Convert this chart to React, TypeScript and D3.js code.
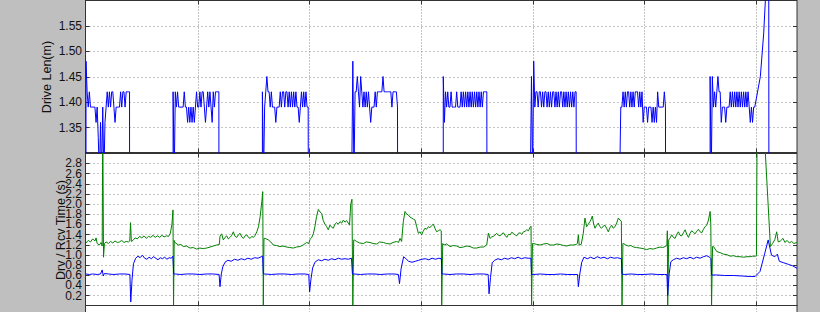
import React, { useEffect, useRef } from 'react';
import * as d3 from 'd3';

// ---------- DATA ----------
// time axis (x) ticks
const xTicks = [0, 100, 200, 300, 400, 500, 600];
const topYTicks = [1.35, 1.4, 1.45, 1.5, 1.55];
const topYLabels = ['1.35', '1.40', '1.45', '1.50', '1.55'];
const botYTicks = [0.2, 0.4, 0.6, 0.8, 1.0, 1.2, 1.4, 1.6, 1.8, 2.0, 2.2, 2.4, 2.6, 2.8];
const botYLabels = ['0.2', '0.4', '0.6', '0.8', '1.0', '1.2', '1.4', '1.6', '1.8', '2.0', '2.2', '2.4', '2.6', '2.8'];

// Drive length: off-scale value between drive bursts
const DRIVE_OFF = 0;
const driveSegStarts = [0, 78, 158, 238, 320, 398, 478, 559];
const driveSegEnds = [39.3, 119.5, 200, 280, 359.8, 440, 520, 612];
const driveSeg1 = [1.48, 1.42, 1.39, 1.42, 1.39, 1.39, 1.39, 1.39, 1.39, 1.36, 1.39, 1.33, 1.25, 1.36, 1.25, 1.39, 1.25, 1.36, 1.39, 1.42, 1.39, 1.42, 1.39, 1.42, 1.42, 1.39, 1.36, 1.39, 1.39, 1.39, 1.39, 1.42, 1.39, 1.42, 1.42, 1.39, 1.42, 1.42, 1.42, 1.42];
const driveSeg2 = [1.42, 1.25, 1.42, 1.39, 1.42, 1.39, 1.39, 1.39, 1.39, 1.39, 1.42, 1.39, 1.39, 1.36, 1.39, 1.36, 1.39, 1.36, 1.39, 1.36, 1.39, 1.42, 1.39, 1.39, 1.42, 1.39, 1.42, 1.42, 1.39, 1.36, 1.39, 1.42, 1.39, 1.42, 1.39, 1.36, 1.42, 1.39, 1.42, 1.42, 1.42, 1.42];
const driveSeg3 = [1.42, 1.25, 1.39, 1.42, 1.45, 1.42, 1.42, 1.39, 1.42, 1.39, 1.39, 1.39, 1.36, 1.39, 1.39, 1.39, 1.42, 1.39, 1.42, 1.42, 1.39, 1.42, 1.42, 1.39, 1.42, 1.39, 1.42, 1.39, 1.42, 1.39, 1.42, 1.39, 1.39, 1.36, 1.39, 1.42, 1.39, 1.42, 1.39, 1.42, 1.39, 1.39];
const driveSeg4 = [1.25, 1.48, 1.25, 1.42, 1.42, 1.45, 1.42, 1.39, 1.45, 1.42, 1.39, 1.42, 1.39, 1.42, 1.39, 1.42, 1.39, 1.36, 1.39, 1.39, 1.39, 1.42, 1.39, 1.42, 1.42, 1.42, 1.42, 1.42, 1.45, 1.42, 1.42, 1.42, 1.42, 1.42, 1.42, 1.42, 1.39, 1.42, 1.42, 1.42, 1.42, 1.39];
const driveSeg5 = [1.45, 1.36, 1.42, 1.39, 1.42, 1.39, 1.39, 1.42, 1.39, 1.39, 1.39, 1.39, 1.42, 1.39, 1.39, 1.39, 1.42, 1.39, 1.42, 1.39, 1.42, 1.39, 1.42, 1.39, 1.42, 1.39, 1.42, 1.39, 1.42, 1.39, 1.42, 1.39, 1.42, 1.39, 1.42, 1.39, 1.42, 1.42, 1.42, 1.42];
const driveSeg6 = [1.25, 1.45, 1.25, 1.48, 1.39, 1.42, 1.42, 1.39, 1.42, 1.42, 1.39, 1.42, 1.39, 1.42, 1.42, 1.39, 1.42, 1.39, 1.42, 1.39, 1.42, 1.42, 1.39, 1.42, 1.39, 1.42, 1.39, 1.42, 1.42, 1.39, 1.42, 1.39, 1.42, 1.39, 1.42, 1.39, 1.42, 1.39, 1.42, 1.39, 1.42, 1.42];
const driveSeg7 = [1.25, 1.39, 1.39, 1.42, 1.39, 1.42, 1.39, 1.42, 1.42, 1.39, 1.42, 1.39, 1.42, 1.39, 1.42, 1.42, 1.42, 1.39, 1.42, 1.39, 1.42, 1.36, 1.39, 1.39, 1.39, 1.36, 1.39, 1.39, 1.39, 1.36, 1.39, 1.36, 1.39, 1.36, 1.42, 1.39, 1.39, 1.39, 1.39, 1.39, 1.42, 1.39];
const driveSeg8 = [1.45, 1.25, 1.45, 1.39, 1.42, 1.39, 1.42, 1.45, 1.42, 1.42, 1.36, 1.39, 1.39, 1.39, 1.36, 1.39, 1.39, 1.39, 1.42, 1.39, 1.42, 1.39, 1.42, 1.39, 1.42, 1.39, 1.42, 1.39, 1.42, 1.39, 1.42, 1.39, 1.42, 1.39, 1.42, 1.39, 1.36, 1.39, 1.36, 1.39, 1.39];
const driveRamp: [number, number][] = [[604, 1.45], [607, 1.535], [611.5, 1.73]];
const driveEndT = 637;

// Drive time (blue, lower panel)
const drvTime: [number, number][] = [
  [0, 0.62], [3, 0.61], [6, 0.62], [10, 0.61], [13, 0.62], [14.5, 0.70], [15.5, 0.58], [16.5, 0.63], [20, 0.62], [25, 0.61], [30, 0.62], [35, 0.62], [39.3, 0.61],
  [40.1, 0.07], [41.2, 0.5], [42.5, 0.82], [44.5, 0.93], [46.5, 0.97], [48.5, 0.94], [50.5, 0.99], [52.5, 0.93], [54.5, 0.91], [56.5, 0.95], [58.5, 0.92], [60.5, 0.96], [62.5, 0.93], [64.5, 0.90], [66.5, 0.94], [68.5, 0.92], [70.5, 0.95], [72.5, 0.91], [74.5, 0.94], [76.5, 0.93], [77.8, 0.97], [78.6, 0.62],
  [80, 0.62], [85, 0.61], [90, 0.62], [96, 0.62], [102, 0.61], [108, 0.62], [114, 0.62], [119.2, 0.61], [120, 0.37], [121.2, 0.62], [122.5, 0.76], [124.5, 0.85], [127, 0.89], [130, 0.87], [133, 0.91], [136, 0.89], [139, 0.92], [142, 0.90], [145, 0.93], [148, 0.91], [151, 0.94], [154, 0.93], [157, 0.96], [158.2, 0.97], [158.8, 0.62],
  [160, 0.62], [166, 0.61], [172, 0.62], [178, 0.62], [184, 0.61], [190, 0.62], [196, 0.62], [199.5, 0.61], [200.3, 0.27], [201.5, 0.52], [203, 0.74], [205, 0.85], [208, 0.90], [211, 0.88], [214, 0.91], [217, 0.89], [220, 0.92], [223, 0.90], [226, 0.93], [229, 0.91], [232, 0.92], [235, 0.91], [237.8, 0.93], [238.6, 0.62],
  [240, 0.62], [246, 0.61], [252, 0.62], [258, 0.62], [264, 0.61], [270, 0.62], [276, 0.62], [279.8, 0.61], [280.8, 0.43], [282.2, 0.72], [284.5, 0.96], [286.5, 0.92], [289, 0.87], [292, 0.85], [295, 0.87], [298, 0.89], [301, 0.91], [304, 0.92], [307, 0.90], [310, 0.93], [313, 0.91], [316, 0.93], [318.3, 0.92], [318.8, 0.62],
  [320, 0.62], [326, 0.61], [332, 0.62], [338, 0.62], [344, 0.61], [350, 0.62], [356, 0.62], [360.2, 0.61], [361, 0.23], [362.3, 0.55], [363.8, 0.84], [366, 0.89], [369, 0.92], [372, 0.90], [375, 0.93], [378, 0.91], [381, 0.94], [384, 0.92], [387, 0.95], [390, 0.92], [393, 0.94], [396, 0.93], [398.5, 0.93], [399.1, 0.61],
  [401, 0.61], [407, 0.62], [413, 0.61], [419, 0.61], [425, 0.62], [431, 0.61], [437, 0.61], [440.3, 0.61], [441, 0.37], [442.3, 0.62], [444, 0.85], [446, 0.95], [449, 0.92], [452, 0.95], [455, 0.92], [458, 0.96], [461, 0.93], [464, 0.95], [467, 0.92], [470, 0.95], [473, 0.93], [476, 0.94], [479.5, 0.92], [480.1, 0.62],
  [482, 0.61], [488, 0.62], [494, 0.61], [500, 0.61], [506, 0.62], [512, 0.61], [518, 0.61], [520.3, 0.61], [521, 0.20], [522.3, 0.62], [523.8, 0.86], [526, 0.90], [529, 0.93], [532, 0.91], [535, 0.94], [538, 0.92], [541, 0.95], [544, 0.92], [547, 0.95], [550, 0.93], [553, 0.96], [556, 0.98], [558.5, 0.95], [559.8, 0.92], [560.3, 0.60],
  [565, 0.60], [572, 0.59], [580, 0.59], [588, 0.58], [595, 0.57], [599.3, 0.57], [603.7, 0.67], [608, 1.03], [611, 1.29], [614, 0.99], [617, 0.96], [619.2, 1.01], [621, 0.87], [625, 0.84], [629, 0.81], [633, 0.78], [637, 0.73],
];

// Receive time (green, lower panel)
const rcvTime: [number, number][] = [
  [0, 1.23], [2, 1.28], [4, 1.25], [6, 1.31], [8, 1.27], [9, 1.33], [10, 1.22], [12, 1.19], [13.5, 1.24], [14.5, 1.17], [15, 3.6], [15.7, 0.95], [16.5, 1.22], [18, 1.25], [20, 1.22], [22, 1.26], [24, 1.23], [26, 1.27], [28, 1.24], [30, 1.25], [32, 1.28], [34, 1.24], [36, 1.26], [38, 1.25], [39.2, 1.27], [39.9, 1.63], [40.6, 1.26],
  [42, 1.28], [44, 1.33], [46, 1.31], [48, 1.36], [50, 1.33], [52, 1.37], [54, 1.32], [56, 1.36], [58, 1.34], [60, 1.38], [62, 1.34], [64, 1.37], [66, 1.34], [68, 1.38], [70, 1.35], [72, 1.37], [74, 1.36], [75.5, 1.42], [77, 1.60], [77.9, 1.88], [78.4, 0], [79, 1.28],
  [79.7, 1.24], [82.7, 1.19], [85, 1.20], [87.2, 1.16], [90, 1.17], [93.2, 1.13], [96, 1.14], [99.1, 1.11], [102, 1.13], [105.1, 1.12], [108, 1.13], [111.1, 1.15], [114, 1.17], [117, 1.19], [119.4, 1.20], [120, 1.36], [121.5, 1.41], [123, 1.29], [124.5, 1.34], [126, 1.37], [127.5, 1.31], [129, 1.34], [130.5, 1.38], [132, 1.45], [133.5, 1.36], [135, 1.34], [136.5, 1.39], [138, 1.42], [139.5, 1.35], [141, 1.32], [142.5, 1.37], [144, 1.39], [145.5, 1.34], [147, 1.32], [148.5, 1.36], [150, 1.34], [151.5, 1.38], [153, 1.45], [154.5, 1.55], [156, 1.75], [157.5, 2.05], [158.3, 2.24], [158.8, 0], [159.4, 1.32],
  [160.6, 1.32], [163.3, 1.29], [165.5, 1.25], [167.8, 1.19], [170.5, 1.18], [173.7, 1.16], [176.5, 1.17], [179.7, 1.15], [182.5, 1.14], [185.7, 1.13], [188.5, 1.15], [191.7, 1.16], [194.5, 1.19], [197.6, 1.24], [199.6, 1.22], [200.6, 1.30], [202, 1.33], [203.6, 1.41], [205, 1.55], [206.5, 1.75], [208.1, 1.89], [209.6, 1.84], [211.1, 1.81], [212.5, 1.67], [214, 1.60], [215.6, 1.55], [217, 1.49], [218.5, 1.58], [220, 1.54], [221.5, 1.52], [223, 1.60], [224.5, 1.63], [226, 1.60], [227.5, 1.65], [229, 1.62], [230.5, 1.68], [232, 1.64], [233.5, 1.67], [235, 1.62], [236, 1.58], [237.1, 1.99], [238.2, 2.09], [239, 0], [239.8, 1.29],
  [240.3, 1.29], [242.4, 1.26], [245, 1.23], [248.4, 1.22], [251, 1.25], [254.4, 1.24], [257, 1.22], [260.3, 1.21], [263, 1.25], [266.3, 1.24], [269, 1.22], [272.3, 1.21], [275, 1.24], [278.3, 1.26], [280, 1.24], [281.2, 1.32], [282.7, 1.26], [284.2, 1.65], [285.7, 1.85], [287.2, 1.80], [288.7, 1.78], [290.2, 1.74], [291.7, 1.72], [293.2, 1.70], [294.7, 1.68], [296.2, 1.55], [297.7, 1.42], [299.2, 1.45], [300.6, 1.39], [302, 1.46], [303.6, 1.52], [305, 1.50], [306.6, 1.55], [308, 1.53], [309.5, 1.57], [311.1, 1.60], [312.5, 1.52], [314.1, 1.45], [315.5, 1.47], [317.1, 1.49], [318.2, 1.47], [318.6, 0], [319.5, 1.22],
  [320.7, 1.19], [323, 1.21], [326, 1.16], [329, 1.18], [332, 1.17], [335, 1.14], [338, 1.15], [341, 1.17], [344, 1.16], [347, 1.13], [350, 1.13], [353, 1.15], [355.9, 1.15], [358.9, 1.19], [360.4, 1.42], [361.9, 1.32], [363.4, 1.35], [364.9, 1.36], [366.4, 1.39], [367.9, 1.42], [369.4, 1.38], [370.9, 1.37], [372.4, 1.41], [373.9, 1.43], [375.4, 1.38], [376.9, 1.34], [378.4, 1.40], [379.9, 1.39], [381.3, 1.44], [382.8, 1.42], [384.3, 1.39], [385.8, 1.37], [387.3, 1.42], [388.8, 1.43], [390.3, 1.40], [391.8, 1.45], [393.3, 1.46], [394.8, 1.49], [396.3, 1.47], [397.8, 1.54], [398.6, 1.56], [399.1, 0], [399.9, 1.22],
  [400.8, 1.22], [403.8, 1.20], [406.8, 1.19], [409.8, 1.21], [412.8, 1.22], [415.8, 1.19], [418.8, 1.19], [421.8, 1.21], [424.7, 1.20], [427.7, 1.18], [430.5, 1.17], [433.5, 1.19], [436.5, 1.19], [439, 1.20], [440.1, 1.22], [441, 1.39], [441.7, 1.19], [443.5, 1.20], [445.4, 1.42], [446.9, 1.72], [448.4, 1.55], [449.9, 1.60], [451.4, 1.65], [452.5, 1.70], [453.5, 1.76], [454.7, 1.60], [455.9, 1.52], [457.3, 1.58], [458.8, 1.62], [460.3, 1.55], [461.8, 1.52], [463.3, 1.56], [464.8, 1.58], [466.3, 1.52], [467.8, 1.45], [469.3, 1.53], [470.8, 1.58], [472.3, 1.52], [473.8, 1.55], [475.3, 1.62], [476.8, 1.72], [478.3, 1.68], [479.5, 1.66], [480.1, 0], [480.9, 1.22],
  [481.3, 1.22], [483.5, 1.19], [485.8, 1.17], [488, 1.18], [490.3, 1.15], [493, 1.14], [496.3, 1.13], [499, 1.12], [502.2, 1.10], [505, 1.12], [508.2, 1.11], [511, 1.13], [514.2, 1.15], [516.5, 1.14], [518.7, 1.16], [520.3, 1.18], [520.7, 1.47], [521, 0], [521.9, 1.29], [523.2, 1.33], [524.6, 1.39], [526.1, 1.34], [527.6, 1.32], [529.1, 1.40], [530.6, 1.45], [532.1, 1.38], [533.6, 1.37], [535.1, 1.43], [536.6, 1.49], [538.1, 1.40], [539.6, 1.34], [541, 1.42], [542.5, 1.47], [544, 1.44], [545.5, 1.41], [547, 1.46], [548.5, 1.50], [550, 1.45], [551.5, 1.43], [553, 1.50], [554.5, 1.55], [556, 1.58], [557.5, 1.68], [559, 1.85], [559.6, 1.60], [560.3, 0], [561.2, 1.16],
  [562, 1.16], [565, 1.06], [568, 1.04], [571, 1.01], [574, 1.00], [577, 0.97], [580, 0.98], [582.9, 0.96], [586, 0.96], [588.9, 0.95], [592, 0.96], [594.9, 0.96], [597, 0.97], [599.4, 0.97], [600.5, 0.98], [601.2, 4.0], [606, 4.0], [613, 1.16], [615, 1.22], [617, 1.30], [618.6, 1.45], [620, 1.25], [622, 1.27], [624.3, 1.32], [626, 1.24], [628, 1.28], [630, 1.23], [632, 1.26], [634, 1.22], [637, 1.24],
];

const topLabel = 'Drive Len(m)';
const botLabel = 'Drv / Rcv Time (s)';

// ---------- COMPONENT ----------
export default function App() {
  const ref = useRef<SVGSVGElement>(null);

  useEffect(() => {
    const svg = d3.select(ref.current);
    svg.selectAll('*').remove();

    const W = 820, H = 312;
    const L = 85.5, R = 797;
    const FONT = '"Liberation Sans", Arial, Helvetica, sans-serif';
    const frameColor = '#333';
    const gridColor = '#8a8a8a';

    const x = d3.scaleLinear().domain([0, 637]).range([86, 797.2]);
    const yTop = d3.scaleLinear().domain([1.3, 1.6]).range([153, 0]);
    const yBot = d3.scaleLinear().domain([0, 3.0]).range([305.5, 153]);

    svg.append('rect').attr('width', W).attr('height', H).attr('fill', '#bfbfbf');

    // axes backgrounds
    const panels = [
      { y0: 0.5, y1: 152.5 },
      { y0: 153.5, y1: 305.5 },
      { y0: 305.5, y1: 330 },
    ];
    panels.forEach(p => {
      svg.append('rect').attr('x', L).attr('y', p.y0).attr('width', R - L).attr('height', p.y1 - p.y0).attr('fill', '#fff');
    });

    // vertical grid lines
    panels.forEach(p => {
      xTicks.filter(t => t > 0).forEach(t => {
        svg.append('line')
          .attr('x1', Math.round(x(t)) + 0.5).attr('x2', Math.round(x(t)) + 0.5)
          .attr('y1', p.y0).attr('y2', p.y1)
          .attr('stroke', gridColor).attr('stroke-width', 1).attr('stroke-dasharray', '1,2');
      });
    });

    // horizontal grid lines
    topYTicks.forEach(v => {
      const yy = Math.round(yTop(v)) + 0.5;
      svg.append('line').attr('x1', L).attr('x2', R).attr('y1', yy).attr('y2', yy)
        .attr('stroke', gridColor).attr('stroke-width', 1).attr('stroke-dasharray', '1,3');
    });
    botYTicks.forEach(v => {
      const yy = Math.round(yBot(v)) + 0.5;
      svg.append('line').attr('x1', L).attr('x2', R).attr('y1', yy).attr('y2', yy)
        .attr('stroke', gridColor).attr('stroke-width', 1).attr('stroke-dasharray', '1,3');
    });

    // tick marks
    const tk = 4;
    const tickG = svg.append('g').attr('stroke', frameColor).attr('stroke-width', 1);
    topYTicks.forEach(v => {
      const yy = Math.round(yTop(v)) + 0.5;
      tickG.append('line').attr('x1', L).attr('x2', L + tk).attr('y1', yy).attr('y2', yy);
      tickG.append('line').attr('x1', R - tk).attr('x2', R).attr('y1', yy).attr('y2', yy);
    });
    botYTicks.forEach(v => {
      const yy = Math.round(yBot(v)) + 0.5;
      tickG.append('line').attr('x1', L).attr('x2', L + tk).attr('y1', yy).attr('y2', yy);
      tickG.append('line').attr('x1', R - tk).attr('x2', R).attr('y1', yy).attr('y2', yy);
    });
    panels.slice(0, 2).forEach(p => {
      xTicks.filter(t => t > 0).forEach(t => {
        const xx = Math.round(x(t)) + 0.5;
        tickG.append('line').attr('x1', xx).attr('x2', xx).attr('y1', p.y0).attr('y2', p.y0 + tk);
        tickG.append('line').attr('x1', xx).attr('x2', xx).attr('y1', p.y1 - tk).attr('y2', p.y1);
      });
    });

    // frames
    panels.forEach(p => {
      svg.append('rect').attr('x', L).attr('y', p.y0).attr('width', R - L).attr('height', p.y1 - p.y0)
        .attr('fill', 'none').attr('stroke', frameColor).attr('stroke-width', 1);
    });

    // clip paths
    const defs = svg.append('defs');
    defs.append('clipPath').attr('id', 'clipTop').append('rect')
      .attr('x', L).attr('y', 0).attr('width', R - L).attr('height', 153);
    defs.append('clipPath').attr('id', 'clipBot').append('rect')
      .attr('x', L).attr('y', 153).attr('width', R - L).attr('height', 152.5);

    // build drive series
    const segs = [driveSeg1, driveSeg2, driveSeg3, driveSeg4, driveSeg5, driveSeg6, driveSeg7, driveSeg8];
    const drivePts: [number, number][] = [];
    segs.forEach((vals, i) => {
      const s = driveSegStarts[i];
      drivePts.push([s, DRIVE_OFF]);
      vals.forEach((v, j) => drivePts.push([s + j, v]));
      if (i === segs.length - 1) driveRamp.forEach(p => drivePts.push(p));
      drivePts.push([driveSegEnds[i], DRIVE_OFF]);
    });
    drivePts.push([driveEndT, DRIVE_OFF]);

    const lineTop = d3.line<[number, number]>().x(d => x(d[0])).y(d => yTop(d[1]));
    const lineBot = d3.line<[number, number]>().x(d => x(d[0])).y(d => yBot(d[1]));

    svg.append('g').attr('clip-path', 'url(#clipTop)')
      .append('path').attr('d', lineTop(drivePts) as string)
      .attr('fill', 'none').attr('stroke', '#0000ff').attr('stroke-width', 1).attr('stroke-linejoin', 'round');

    const gb = svg.append('g').attr('clip-path', 'url(#clipBot)');
    gb.append('path').attr('d', lineBot(rcvTime) as string)
      .attr('fill', 'none').attr('stroke', '#008000').attr('stroke-width', 1).attr('stroke-linejoin', 'round');
    gb.append('path').attr('d', lineBot(drvTime) as string)
      .attr('fill', 'none').attr('stroke', '#0000ff').attr('stroke-width', 1).attr('stroke-linejoin', 'round');

    // tick labels
    topYTicks.forEach((v, i) => {
      svg.append('text').attr('x', 82).attr('y', yTop(v)).attr('dy', '0.35em')
        .attr('text-anchor', 'end').attr('font-family', FONT).attr('font-size', 12).attr('fill', '#111')
        .text(topYLabels[i]);
    });
    botYTicks.forEach((v, i) => {
      svg.append('text').attr('x', 82).attr('y', yBot(v)).attr('dy', '0.35em')
        .attr('text-anchor', 'end').attr('font-family', FONT).attr('font-size', 12).attr('fill', '#111')
        .text(botYLabels[i]);
    });

    // axis labels
    svg.append('text').attr('transform', 'translate(50.5,77) rotate(-90)')
      .attr('text-anchor', 'middle').attr('font-family', FONT).attr('font-size', 12.5).attr('fill', '#111')
      .text(topLabel);
    svg.append('text').attr('transform', 'translate(64.5,230) rotate(-90)')
      .attr('text-anchor', 'middle').attr('font-family', FONT).attr('font-size', 12.5).attr('fill', '#111')
      .text(botLabel);
  }, []);

  return <svg ref={ref} width={820} height={312} style={{ position: 'absolute', left: 0, top: 0, display: 'block' }} />;
}
